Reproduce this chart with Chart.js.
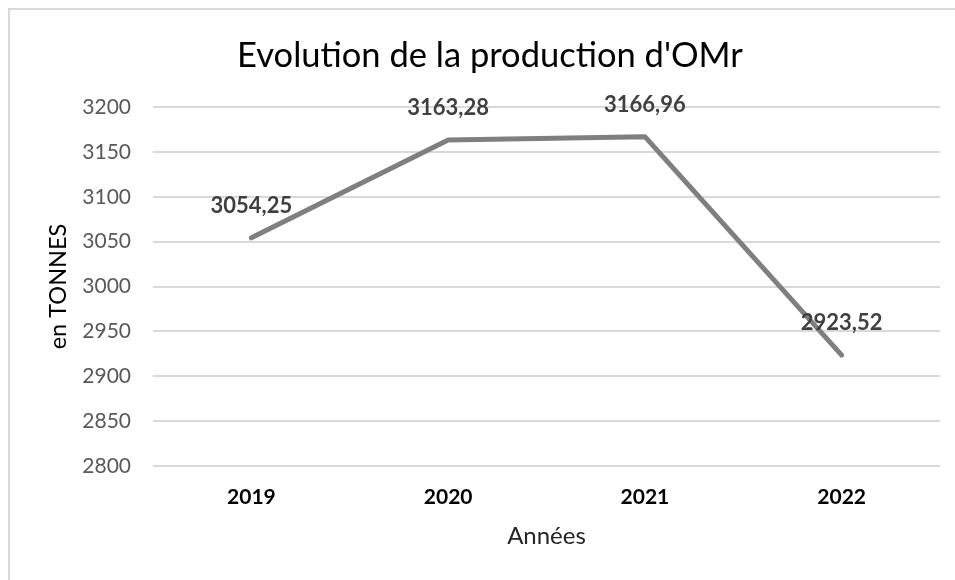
<!DOCTYPE html>
<html>
<head>
<meta charset="utf-8">
<script src="https://cdn.jsdelivr.net/npm/chart.js@4.4.1/dist/chart.umd.min.js"></script>
<style>
  html, body { margin: 0; padding: 0; background: #fff; overflow: hidden; }
  #frame { position: absolute; left: 8px; top: 8px; width: 1000px; height: 700px; border: 2px solid #d9d9d9; box-sizing: border-box; }
  #wrap { position: absolute; left: 0; top: 0; width: 955px; height: 580px; }
</style>
</head>
<body>
<div id="frame"></div>
<div id="wrap"><canvas id="c" width="955" height="580"></canvas></div>
<script>
const categories = ['2019', '2020', '2021', '2022'];
const production = [3054.25, 3163.28, 3166.96, 2923.52];
const yTicks = [2800, 2850, 2900, 2950, 3000, 3050, 3100, 3150, 3200];
const chartTitle = "Evolution de la production d'OMr";
const yTitle = 'en TONNES';
const xTitle = 'Années';

const FONT = 'Lato, "Open Sans", sans-serif';

const dataLabels = {
  id: 'dataLabels',
  afterDatasetsDraw(chart) {
    const ctx = chart.ctx;
    const meta = chart.getDatasetMeta(0);
    ctx.save();
    ctx.font = 'bold 22px ' + FONT;
    ctx.fillStyle = '#404040';
    ctx.textAlign = 'center';
    ctx.textBaseline = 'middle';
    meta.data.forEach((pt, i) => {
      const v = chart.data.datasets[0].data[i];
      ctx.fillText(v.toFixed(2).replace('.', ','), pt.x, pt.y - 32);
    });
    ctx.restore();
  }
};

new Chart(document.getElementById('c'), {
  type: 'line',
  data: {
    labels: categories,
    datasets: [{
      data: production,
      borderColor: '#7f7f7f',
      borderWidth: 5,
      borderCapStyle: 'round',
      borderJoinStyle: 'round',
      pointRadius: 0,
      tension: 0,
      fill: false
    }]
  },
  options: {
    responsive: false,
    animation: false,
    layout: { padding: { left: 40, right: 15, top: 35, bottom: 20 } },
    plugins: {
      legend: { display: false },
      tooltip: { enabled: false },
      title: {
        display: true,
        text: chartTitle,
        color: '#000000',
        font: { family: FONT, size: 34.5, weight: 'normal' },
        padding: { top: 0, bottom: 30.6 }
      }
    },
    scales: {
      x: {
        offset: true,
        grid: { display: false, drawTicks: false },
        border: { display: false },
        ticks: { color: '#000000', font: { family: FONT, size: 21, weight: 'bold' }, padding: 19, maxRotation: 0 },
        title: { display: true, text: xTitle, color: '#262626', font: { family: FONT, size: 24 }, padding: { top: 4, bottom: 9 } },
        afterFit(s) { s.height = 94; }
      },
      y: {
        min: 2800,
        max: 3200,
        afterBuildTicks(s) { s.ticks = yTicks.map(v => ({ value: v })); },
        grid: { color: '#d9d9d9', lineWidth: 2, drawTicks: false },
        border: { display: false },
        ticks: { color: '#595959', font: { family: FONT, size: 21 }, padding: 22, callback: (v) => String(v) },
        title: { display: true, text: yTitle, color: '#000000', font: { family: FONT, size: 23.5 }, padding: { top: 4, bottom: 4 } },
        afterFit(s) { s.width = 113; }
      }
    }
  },
  plugins: [dataLabels]
});
</script>
</body>
</html>
